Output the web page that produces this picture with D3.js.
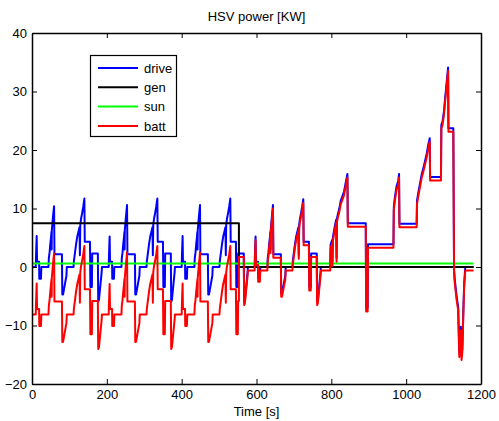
<!DOCTYPE html>
<html>
<head>
<meta charset="utf-8">
<script src="https://cdn.jsdelivr.net/npm/d3@7"></script>
<style>
  html, body { margin: 0; padding: 0; background: #fff; }
  svg { display: block; }
  text { font-family: "Liberation Sans", Arial, sans-serif; fill: #000; }
</style>
</head>
<body>
<svg id="chart" width="499" height="421"></svg>
<script>
// ---- data ----
const title = "HSV power [KW]";
const xLabel = "Time [s]";
const seriesNames = ["drive", "gen", "sun", "batt"];
const xTicks = [0, 200, 400, 600, 800, 1000, 1200];
const yTicks = [-20, -10, 0, 10, 20, 30, 40];

const driveData = [
  [0,0],[10,0],[11,2.5],[12.5,5.3],[13.5,0.9],[19,0.9],[19.5,-2.0],[24,-2.0],[25,0],
  [44,0],[45,1.5],[47,2.5],[49,4.0],[51,5.2],[52,6.0],[52.5,3.0],[53,6.3],[55,7.8],[57,9.2],[59,10.4],[60,2.2],
  [80,2.2],[81,-4.7],[83,-4.7],[92,-1.5],[93,0],
  [111,0],[112,1.0],[115,2.5],[118,4.0],[121,5.2],[124,6.0],[127,6.8],[128,2.0],[129,7.2],[131,8.2],[134,9.2],[137,10.3],[140,11.7],[141,4.3],
  [155,4.3],[156,-3.4],[160,-3.4],[161,2.3],[176,2.3],[177,-5.9],[179,-5.6],[186,-1.0],[187,0],
  [205,0],[206,2.5],[207.5,5.2],[208.5,0.9],[214,0.9],[214.5,-2.0],[219,-2.0],[220,0],
  [239,0],[240,1.5],[242,2.5],[244,4.0],[246,5.2],[247,6.0],[247.5,3.0],[248,6.3],[250,7.8],[252,9.2],[254,10.6],[255,2.2],
  [275,2.2],[276,-4.7],[278,-4.7],[287,-1.5],[288,0],
  [306,0],[307,1.0],[310,2.5],[313,4.0],[316,5.2],[319,6.0],[322,6.8],[323,2.0],[324,7.2],[326,8.2],[329,9.2],[332,10.3],[335,11.7],[336,4.3],
  [350,4.3],[351,-3.4],[355,-3.4],[356,2.3],[371,2.3],[372,-5.9],[374,-5.6],[381,-1.0],[382,0],
  [400,0],[401,2.5],[402.5,5.3],[403.5,0.9],[409,0.9],[409.5,-2.0],[414,-2.0],[415,0],
  [434,0],[435,1.5],[437,2.5],[439,4.0],[441,5.2],[442,6.0],[442.5,3.0],[443,6.3],[445,7.8],[447,9.2],[449,10.6],[450,2.2],
  [470,2.2],[471,-4.7],[473,-4.7],[482,-1.5],[483,0],
  [501,0],[502,1.0],[505,2.5],[508,4.0],[511,5.2],[514,6.0],[517,6.8],[518,2.0],[519,7.2],[521,8.2],[524,9.2],[527,10.3],[530,11.7],[531,4.3],
  [545,4.3],[546,-3.4],[550,-3.4],[551,2.3],[566,2.3],[567,-5.9],[569,-5.6],[576,-1.0],[577,0],
  [595,0],[596,2.5],[597.5,5.2],[598.5,0.9],[604,0.9],[604.5,-1.9],[609,-1.9],[610,0],
  [629,0],[630,1.5],[632,2.5],[634,4.0],[636,5.2],[637,6.0],[637.5,3.0],[638,6.3],[640,7.8],[642,9.2],[644,10.6],[645,2.2],
  [665,2.2],[666,-4.5],[668,-4.5],[677,-1.5],[678,0],
  [696,0],[697,1.0],[700,2.5],[703,4.0],[706,5.2],[709,6.0],[712,6.8],[713,2.0],[714,7.2],[716,8.2],[719,9.2],[722,10.3],[725,11.6],[726,4.3],
  [740,4.3],[741,-3.4],[745,-3.4],[746,2.3],[761,2.3],[762,-5.9],[764,-5.6],[771,-1.0],[772,0],
  [797,0],[798,3.8],[802,4.6],[803,0.8],[804,5.0],[808,6.5],[810,7.2],[813,8.1],[814,1.5],[815,8.3],[818,9.2],[821,9.9],[825,11.3],[829,12.0],[834,12.9],[838,14.3],[843,15.9],[844,7.5],
  [892,7.5],[893,-7.0],[897,-7.0],[898,3.9],
  [966,3.9],[967,10.3],[970,12.0],[974,13.7],[979,14.8],[981,15.9],[982,7.4],
  [1028,7.4],[1029,11.4],[1033,12.9],[1037,14.3],[1042,16.0],[1046,16.9],[1051,18.3],[1055,19.4],[1059,20.9],[1063,22.0],[1064,15.4],
  [1093,15.4],[1094,24.3],[1097,24.8],[1101,26.6],[1104,28.8],[1108,31.4],[1112,34.1],[1113,23.7],
  [1126,23.7],[1128,-0.5],[1130,-2.2],[1135,-5.1],[1139,-6.8],[1142,-14.8],[1144,-11.0],[1146,-10.2],[1148,-15.3],[1150,-14.0],[1153,-7.0],[1155,-2.8],[1158,0],[1180,0]
];

const genData = [[0,7.5],[553,7.5],[553,0],[1180,0]];
const sunData = [[0,0.6],[1180,0.6]];

const battData = [
  [0,-8.1],[10,-8.1],[11,-5.6],[12.5,-2.8],[13.5,-7.2],[19,-7.2],[19.5,-10.1],[24,-10.1],[25,-8.1],
  [44,-8.1],[45,-6.6],[47,-5.6],[49,-4.1],[51,-2.9],[52,-2.1],[52.5,-5.1],[53,-1.8],[55,-0.3],[57,1.1],[59,2.3],[60,-5.9],
  [80,-5.9],[81,-12.8],[83,-12.8],[92,-9.6],[93,-8.1],
  [111,-8.1],[112,-7.1],[115,-5.6],[118,-4.1],[121,-2.9],[124,-2.1],[127,-1.3],[128,-6.1],[129,-0.9],[131,0.1],[134,1.1],[137,2.2],[140,3.6],[141,-3.8],
  [155,-3.8],[156,-11.5],[160,-11.5],[161,-5.8],[176,-5.8],[177,-14.0],[179,-13.7],[186,-9.1],[187,-8.1],
  [205,-8.1],[206,-5.6],[207.5,-2.9],[208.5,-7.2],[214,-7.2],[214.5,-10.1],[219,-10.1],[220,-8.1],
  [239,-8.1],[240,-6.6],[242,-5.6],[244,-4.1],[246,-2.9],[247,-2.1],[247.5,-5.1],[248,-1.8],[250,-0.3],[252,1.1],[254,2.5],[255,-5.9],
  [275,-5.9],[276,-12.8],[278,-12.8],[287,-9.6],[288,-8.1],
  [306,-8.1],[307,-7.1],[310,-5.6],[313,-4.1],[316,-2.9],[319,-2.1],[322,-1.3],[323,-6.1],[324,-0.9],[326,0.1],[329,1.1],[332,2.2],[335,3.6],[336,-3.8],
  [350,-3.8],[351,-11.5],[355,-11.5],[356,-5.8],[371,-5.8],[372,-14.0],[374,-13.7],[381,-9.1],[382,-8.1],
  [400,-8.1],[401,-5.6],[402.5,-2.8],[403.5,-7.2],[409,-7.2],[409.5,-10.1],[414,-10.1],[415,-8.1],
  [434,-8.1],[435,-6.6],[437,-5.6],[439,-4.1],[441,-2.9],[442,-2.1],[442.5,-5.1],[443,-1.8],[445,-0.3],[447,1.1],[449,2.5],[450,-5.9],
  [470,-5.9],[471,-12.8],[473,-12.8],[482,-9.6],[483,-8.1],
  [501,-8.1],[502,-7.1],[505,-5.6],[508,-4.1],[511,-2.9],[514,-2.1],[517,-1.3],[518,-6.1],[519,-0.9],[521,0.1],[524,1.1],[527,2.2],[530,3.6],[531,-3.8],
  [545,-3.8],[546,-11.5],[550,-11.5],[551,-5.8],[553,-5.8],[553,1.7],[566,1.7],[567,-6.5],[569,-6.2],[576,-1.6],[577,-0.6],
  [595,-0.6],[596,1.9],[597.5,4.6],[598.5,0.3],[604,0.3],[604.5,-2.5],[609,-2.5],[610,-0.6],
  [629,-0.6],[630,0.9],[632,1.9],[634,3.4],[636,4.6],[637,5.4],[637.5,2.4],[638,5.7],[640,7.2],[642,8.6],[644,10.0],[645,1.6],
  [665,1.6],[666,-5.1],[668,-5.1],[677,-2.1],[678,-0.6],
  [696,-0.6],[697,0.4],[700,1.9],[703,3.4],[706,4.6],[709,5.4],[712,6.2],[713,1.4],[714,6.6],[716,7.6],[719,8.6],[722,9.7],[725,11.0],[726,3.7],
  [740,3.7],[741,-4.0],[745,-4.0],[746,1.7],[761,1.7],[762,-6.5],[764,-6.2],[771,-1.6],[772,-0.6],
  [797,-0.6],[798,3.2],[802,4.0],[803,0.2],[804,4.4],[808,5.9],[810,6.6],[813,7.5],[814,0.9],[815,7.7],[818,8.6],[821,9.3],[825,10.7],[829,11.4],[834,12.3],[838,13.7],[843,15.3],[844,6.9],
  [892,6.9],[893,-7.6],[897,-7.6],[898,3.3],
  [966,3.3],[967,9.7],[970,11.4],[974,13.1],[979,14.2],[981,15.3],[982,6.8],
  [1028,6.8],[1029,10.8],[1033,12.3],[1037,13.7],[1042,15.4],[1046,16.3],[1051,17.7],[1055,18.8],[1059,20.3],[1063,21.4],[1064,14.8],
  [1093,14.8],[1094,23.7],[1097,24.2],[1101,26.0],[1104,28.2],[1108,30.8],[1112,33.5],[1113,23.1],
  [1126,23.1],[1128,-1.1],[1130,-2.8],[1135,-5.7],[1139,-7.4],[1142,-15.4],[1144,-11.6],[1146,-10.8],[1148,-15.9],[1150,-14.6],[1153,-7.6],[1155,-3.4],[1158,-0.6],[1180,-0.6]
];

const seriesColors = ["#0000ff", "#000000", "#00ff00", "#ff0000"];

// ---- layout ----
const W = 499, H = 421;
const plot = { left: 32, top: 33, right: 481, bottom: 384 };
const svg = d3.select("#chart");

const x = d3.scaleLinear().domain([0, 1200]).range([plot.left, plot.right]);
const y = d3.scaleLinear().domain([-20, 40]).range([plot.bottom, plot.top]);

svg.append("rect").attr("width", W).attr("height", H).attr("fill", "#fff");

svg.append("defs").append("clipPath").attr("id", "clip")
  .append("rect").attr("x", plot.left).attr("y", plot.top)
  .attr("width", plot.right - plot.left).attr("height", plot.bottom - plot.top);

const line = d3.line().x(d => x(d[0])).y(d => y(d[1]));
const allSeries = [driveData, genData, sunData, battData];
const g = svg.append("g").attr("clip-path", "url(#clip)");
allSeries.forEach((data, i) => {
  g.append("path").datum(data)
    .attr("d", line)
    .attr("fill", "none")
    .attr("stroke", seriesColors[i])
    .attr("stroke-width", 2)
    .attr("stroke-linejoin", "round");
});

// ---- axes (MATLAB box style, ticks inside) ----
const fs = 13;
function styleAxis(sel) {
  sel.selectAll(".domain").attr("stroke", "#000").attr("stroke-width", 1.5);
  sel.selectAll(".tick line").attr("stroke", "#000").attr("stroke-width", 1);
  sel.selectAll("text").attr("font-size", fs).attr("font-family", "'Liberation Sans', Arial, sans-serif").attr("fill", "#000");
}
svg.append("g").attr("transform", `translate(0,${plot.bottom})`)
  .call(d3.axisBottom(x).tickValues(xTicks).tickSize(-5).tickSizeOuter(0).tickPadding(6).tickFormat(d3.format("d")))
  .call(styleAxis);
svg.append("g").attr("transform", `translate(0,${plot.top})`)
  .call(d3.axisTop(x).tickValues(xTicks).tickSize(-5).tickSizeOuter(0).tickFormat(""))
  .call(styleAxis);
svg.append("g").attr("transform", `translate(${plot.left},0)`)
  .call(d3.axisLeft(y).tickValues(yTicks).tickSize(-5).tickSizeOuter(0).tickPadding(5).tickFormat(d3.format("d")))
  .call(styleAxis);
svg.append("g").attr("transform", `translate(${plot.right},0)`)
  .call(d3.axisRight(y).tickValues(yTicks).tickSize(-5).tickSizeOuter(0).tickFormat(""))
  .call(styleAxis);

// ---- title & label ----
svg.append("text").attr("x", (plot.left + plot.right) / 2).attr("y", 21)
  .attr("text-anchor", "middle").attr("font-size", fs).text(title);
svg.append("text").attr("x", (plot.left + plot.right) / 2).attr("y", 416)
  .attr("text-anchor", "middle").attr("font-size", fs).text(xLabel);

// ---- legend ----
const lg = svg.append("g");
lg.append("rect").attr("x", 90.5).attr("y", 55.5).attr("width", 86).attr("height", 81)
  .attr("fill", "#fff").attr("stroke", "#000").attr("stroke-width", 1.2);
seriesNames.forEach((name, i) => {
  const yy = 68 + i * 19.3;
  lg.append("line").attr("x1", 98).attr("x2", 138).attr("y1", yy).attr("y2", yy)
    .attr("stroke", seriesColors[i]).attr("stroke-width", 2);
  lg.append("text").attr("x", 144).attr("y", yy).attr("dy", "0.36em")
    .attr("font-size", fs).text(name);
});
</script>
</body>
</html>
